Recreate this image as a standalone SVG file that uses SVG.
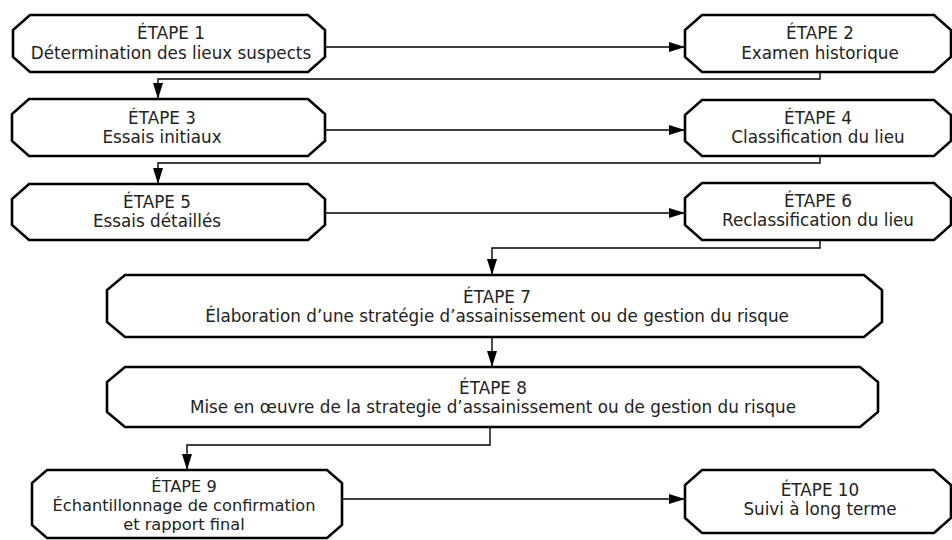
<svg xmlns="http://www.w3.org/2000/svg" width="952" height="540" viewBox="0 0 952 540">
<style>
.n{fill:#fff;stroke:#000;stroke-width:2.6;stroke-linejoin:miter}
.t{font-family:"DejaVu Sans","Liberation Sans",sans-serif;font-size:16.8px;fill:#222;text-anchor:middle}
.s{font-size:16.2px}
.c{fill:none;stroke:#000;stroke-width:1.4}
</style>
<defs>
<marker id="ar" viewBox="0 0 16 10" refX="16" refY="5" markerWidth="16" markerHeight="10" markerUnits="userSpaceOnUse" orient="auto">
<path d="M0,0 L16,5 L0,10 Z" fill="#000"/>
</marker>
</defs>
<rect width="952" height="540" fill="#fff"/>
<g id="connectors">
<path class="c" d="M325,47 H685" marker-end="url(#ar)"/>
<path class="c" d="M820,72 V79 H158 V99" marker-end="url(#ar)"/>
<path class="c" d="M325,130 H685" marker-end="url(#ar)"/>
<path class="c" d="M820,156 V163 H158 V184" marker-end="url(#ar)"/>
<path class="c" d="M325,213 H685" marker-end="url(#ar)"/>
<path class="c" d="M820,240 V248 H492 V275" marker-end="url(#ar)"/>
<path class="c" d="M492,337 V367" marker-end="url(#ar)"/>
<path class="c" d="M490,427 V445 H187 V470" marker-end="url(#ar)"/>
<path class="c" d="M342,499 H685" marker-end="url(#ar)"/>
</g>
<g id="node1">
<path class="n" d="M30,15 H308 L325,30 V57 L308,72 H30 L13,57 V30 Z"/>
<text class="t" x="171" y="39">ÉTAPE 1</text>
<text class="t" x="171" y="59">Détermination des lieux suspects</text>
</g>
<g id="node2">
<path class="n" d="M702,15 H934 L951,30 V57 L934,72 H702 L685,57 V30 Z"/>
<text class="t" x="820" y="39">ÉTAPE 2</text>
<text class="t" x="820" y="59">Examen historique</text>
</g>
<g id="node3">
<path class="n" d="M29,99 H308 L325,114 V141 L308,156 H29 L12,141 V114 Z"/>
<text class="t" x="162" y="124">ÉTAPE 3</text>
<text class="t" x="162" y="143">Essais initiaux</text>
</g>
<g id="node4">
<path class="n" d="M702,100 H934 L951,115 V141 L934,156 H702 L685,141 V115 Z"/>
<text class="t" x="818" y="124">ÉTAPE 4</text>
<text class="t" x="818" y="143">Classification du lieu</text>
</g>
<g id="node5">
<path class="n" d="M29,184 H308 L325,199 V225 L308,240 H29 L12,225 V199 Z"/>
<text class="t" x="157" y="208">ÉTAPE 5</text>
<text class="t" x="157" y="227">Essais détaillés</text>
</g>
<g id="node6">
<path class="n" d="M702,183 H934 L951,198 V225 L934,240 H702 L685,225 V198 Z"/>
<text class="t" x="818" y="207">ÉTAPE 6</text>
<text class="t" x="818" y="226">Reclassification du lieu</text>
</g>
<g id="node7">
<path class="n" d="M125,275 H864 L882,290 V322 L864,337 H125 L107,322 V290 Z"/>
<text class="t" x="497" y="303">ÉTAPE 7</text>
<text class="t" x="497" y="322">Élaboration d’une stratégie d’assainissement ou de gestion du risque</text>
</g>
<g id="node8">
<path class="n" d="M125,367 H860 L878,382 V412 L860,427 H125 L107,412 V382 Z"/>
<text class="t" x="493" y="394">ÉTAPE 8</text>
<text class="t" x="493" y="413">Mise en œuvre de la strategie d’assainissement ou de gestion du risque</text>
</g>
<g id="node9">
<path class="n" d="M47,470 H327 L342,483 V525 L327,538 H47 L32,525 V483 Z"/>
<text class="t s" x="184" y="492">ÉTAPE 9</text>
<text class="t s" x="184" y="511">Échantillonnage de confirmation</text>
<text class="t s" x="184" y="530">et rapport final</text>
</g>
<g id="node10">
<path class="n" d="M702,470 H934 L951,485 V518 L934,533 H702 L685,518 V485 Z"/>
<text class="t" x="820" y="496">ÉTAPE 10</text>
<text class="t" x="820" y="515">Suivi à long terme</text>
</g>
</svg>
